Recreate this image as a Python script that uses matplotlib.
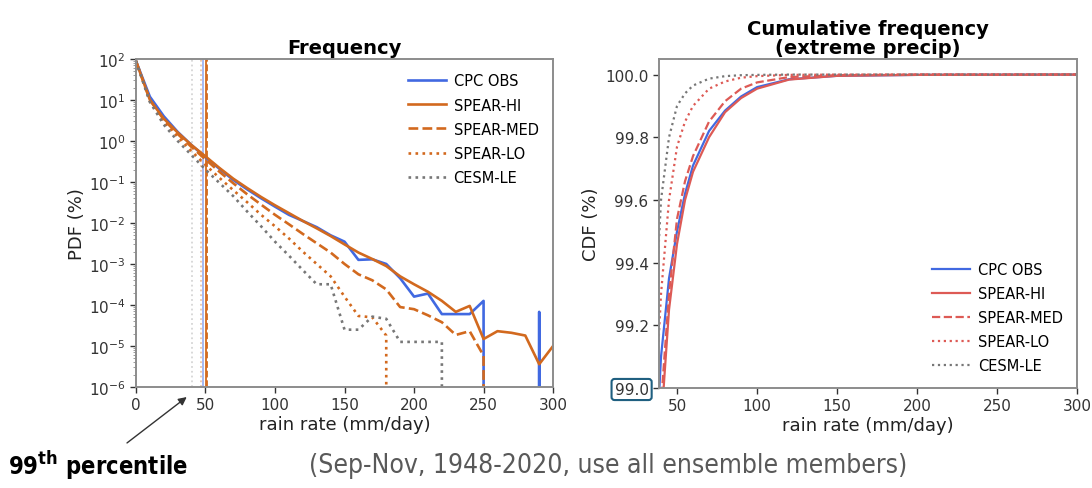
import numpy as np
import matplotlib
matplotlib.use("Agg")
from matplotlib import pyplot as plt
from matplotlib.ticker import FixedLocator, FormatStrFormatter

# rain rate bins for the PDF panel (mm/day)
rain_pdf = [0, 10, 20, 30, 40, 50, 60, 70, 80, 90, 100, 110, 120, 130, 140, 150,
            160, 170, 180, 190, 200, 210, 220, 230, 240, 250, 260, 270, 280, 290, 300]

# PDF (%), zero = empty bin
pdf_obs = [89, 12, 4.0, 1.66, 0.79, 0.40, 0.21, 0.112, 0.066, 0.040, 0.025, 0.0158,
           0.0112, 7.9e-3, 5.0e-3, 3.5e-3, 1.26e-3, 1.3e-3, 1.0e-3, 4.5e-4, 1.6e-4,
           1.9e-4, 6.0e-5, 6.0e-5, 6.0e-5, 1.26e-4, 0, 0, 0, 6.8e-5, 0]
pdf_hi = [89, 10, 3.5, 1.6, 0.79, 0.42, 0.22, 0.12, 0.071, 0.043, 0.027, 0.0174,
          0.0112, 7.4e-3, 4.8e-3, 3.0e-3, 1.9e-3, 1.32e-3, 8.9e-4, 5.0e-4, 3.2e-4,
          2.1e-4, 1.26e-4, 6.8e-5, 9.5e-5, 1.48e-5, 2.3e-5, 2.1e-5, 1.8e-5, 3.6e-6, 1.0e-5]
pdf_med = [89, 10, 3.3, 1.48, 0.71, 0.355, 0.178, 0.093, 0.05, 0.028, 0.0158, 9.3e-3,
           5.4e-3, 3.2e-3, 1.9e-3, 1.0e-3, 5.6e-4, 4.0e-4, 2.4e-4, 8.9e-5, 7.9e-5,
           5.6e-5, 3.8e-5, 1.86e-5, 2.3e-5, 5.8e-6, 0, 0, 0, 0, 0]
pdf_lo = [89, 9.3, 3.0, 1.26, 0.56, 0.26, 0.126, 0.063, 0.032, 0.0158, 8.3e-3, 4.2e-3,
          2.0e-3, 1.0e-3, 5.0e-4, 1.6e-4, 5.4e-5, 5.0e-5, 1.8e-5, 0, 0,
          0, 0, 0, 0, 0, 0, 0, 0, 0, 0]
pdf_cesm = [89, 8.9, 2.5, 1.0, 0.45, 0.2, 0.095, 0.045, 0.019, 8.3e-3, 3.5e-3, 1.6e-3,
            7.1e-4, 3.2e-4, 3.2e-4, 2.5e-5, 2.5e-5, 5.2e-5, 4.6e-5, 1.26e-5, 1.26e-5,
            1.26e-5, 1.26e-5, 0, 0, 0, 0, 0, 0, 0, 0]

# 99th percentile of each dataset (mm/day)
pct99 = [48.5, 50.5, 51.0, 46.5, 40.5]

# CDF panel
rain_cdf = [30, 35, 40, 45, 50, 55, 60, 70, 80, 90, 100, 120, 150, 200, 300]
cdf_obs = [98.0, 98.6, 99.1, 99.35, 99.5, 99.62, 99.71, 99.82, 99.885, 99.93, 99.96,
           99.985, 99.996, 99.999, 100.0]
cdf_hi = [97.7, 98.3, 98.88, 99.25, 99.46, 99.6, 99.69, 99.80, 99.88, 99.925, 99.955,
          99.984, 99.996, 99.999, 100.0]
cdf_med = [97.8, 98.4, 98.95, 99.3, 99.54, 99.66, 99.74, 99.85, 99.915, 99.955, 99.975,
           99.992, 99.998, 100.0, 100.0]
cdf_lo = [98.3, 98.8, 99.3, 99.6, 99.77, 99.85, 99.9, 99.955, 99.978, 99.99, 99.995,
          99.999, 100.0, 100.0, 100.0]
cdf_cesm = [98.6, 99.1, 99.6, 99.8, 99.9, 99.94, 99.965, 99.987, 99.995, 99.998, 99.999,
            100.0, 100.0, 100.0, 100.0]

labels = ["CPC OBS", "SPEAR-HI", "SPEAR-MED", "SPEAR-LO", "CESM-LE"]
styles = ["-", "-", "--", ":", ":"]
pdf_colors = ["#4169e1", "#d2691e", "#d2691e", "#d2691e", "#777777"]
cdf_colors = ["#4169e1", "#dd5a55", "#dd5a55", "#dd5a55", "#777777"]
pct_alpha = [0.5, 1.0, 1.0, 0.4, 0.3]

spine_col = "#8c8c8c"
tick_col = "#333333"

fig = plt.figure(figsize=(10.92, 4.89), dpi=100)
ax1 = fig.add_axes([0.1245, 0.2065, 0.382, 0.671])
ax2 = fig.add_axes([0.6035, 0.2045, 0.383, 0.673])

leg_kw = dict(fontsize=10.5, frameon=False, labelspacing=0.62,
              handlelength=2.6, handletextpad=0.5)

# ---- left: PDF
pdfs = [pdf_obs, pdf_hi, pdf_med, pdf_lo, pdf_cesm]
for ii in range(len(labels)):
    ax1.axvline(pct99[ii], color=pdf_colors[ii], ls=styles[ii], lw=1.3,
                alpha=pct_alpha[ii])
for ii in range(len(labels)):
    ax1.plot(rain_pdf, pdfs[ii], ls=styles[ii], color=pdf_colors[ii], lw=1.9,
             label=labels[ii])
ax1.set_yscale("log", nonpositive="clip")
ax1.set_ylim(1e-6, 1e2)
ax1.set_xlim(0, 300)
ax1.set_xticks([0, 50, 100, 150, 200, 250, 300])
ax1.set_yticks([10.0 ** k for k in range(-6, 3)])
ax1.set_title("Frequency", fontsize=14, fontweight="bold", pad=4)
ax1.set_xlabel("rain rate (mm/day)", fontsize=13, color="#222222", labelpad=2)
ax1.set_ylabel("PDF (%)", fontsize=13, color="#222222", labelpad=2)
ax1.legend(loc="upper right", borderaxespad=0.6, **leg_kw)

# ---- right: CDF
cdfs = [cdf_obs, cdf_hi, cdf_med, cdf_lo, cdf_cesm]
for ii in range(len(labels)):
    ax2.plot(rain_cdf, cdfs[ii], ls=styles[ii], color=cdf_colors[ii], lw=1.6,
             label=labels[ii])
ax2.set_xlim(38.75, 300)
ax2.set_ylim(99.0, 100.05)
ax2.xaxis.set_major_locator(FixedLocator([50, 100, 150, 200, 250, 300]))
ax2.yaxis.set_major_locator(FixedLocator([99.0, 99.2, 99.4, 99.6, 99.8, 100.0]))
ax2.yaxis.set_major_formatter(FormatStrFormatter("%.1f"))
ax2.set_title("Cumulative frequency\n(extreme precip)", fontsize=14,
              fontweight="bold", pad=4, linespacing=1.0)
ax2.set_xlabel("rain rate (mm/day)", fontsize=13, color="#222222", labelpad=2)
ax2.set_ylabel("CDF (%)", fontsize=13, color="#222222", labelpad=4)
ax2.legend(loc="lower right", borderaxespad=0.6, **leg_kw)

for ax in (ax1, ax2):
    for s in ax.spines.values():
        s.set_color(spine_col)
        s.set_linewidth(1.4)
    ax.tick_params(labelsize=11, colors=tick_col, width=1.0, length=4)
    ax.tick_params(which="minor", colors=spine_col)

fig.canvas.draw()
# box around the 99.0 label
lab0 = ax2.get_yticklabels()[0]
lab0.set_bbox(dict(boxstyle="round,pad=0.2", fc="none", ec="#1f5f80", lw=1.5))

# ---- annotations below
ax1.annotate("99$^{\\mathbf{th}}$ percentile", xy=(0.171, 0.186),
             xycoords="figure fraction", xytext=(0.09, 0.047),
             textcoords="figure fraction", ha="center", va="center",
             fontsize=17, fontweight="bold",
             family="DejaVu Sans", stretch="condensed",
             arrowprops=dict(arrowstyle="-|>", color="#333333", lw=1.0,
                             shrinkA=3, shrinkB=0, mutation_scale=12),
             annotation_clip=False)
fig.text(0.557, 0.047, "(Sep-Nov, 1948-2020, use all ensemble members)",
         ha="center", va="center", fontsize=19, color="#595959",
         family="DejaVu Sans", stretch="condensed")

fig.savefig("out.png", dpi=100)
